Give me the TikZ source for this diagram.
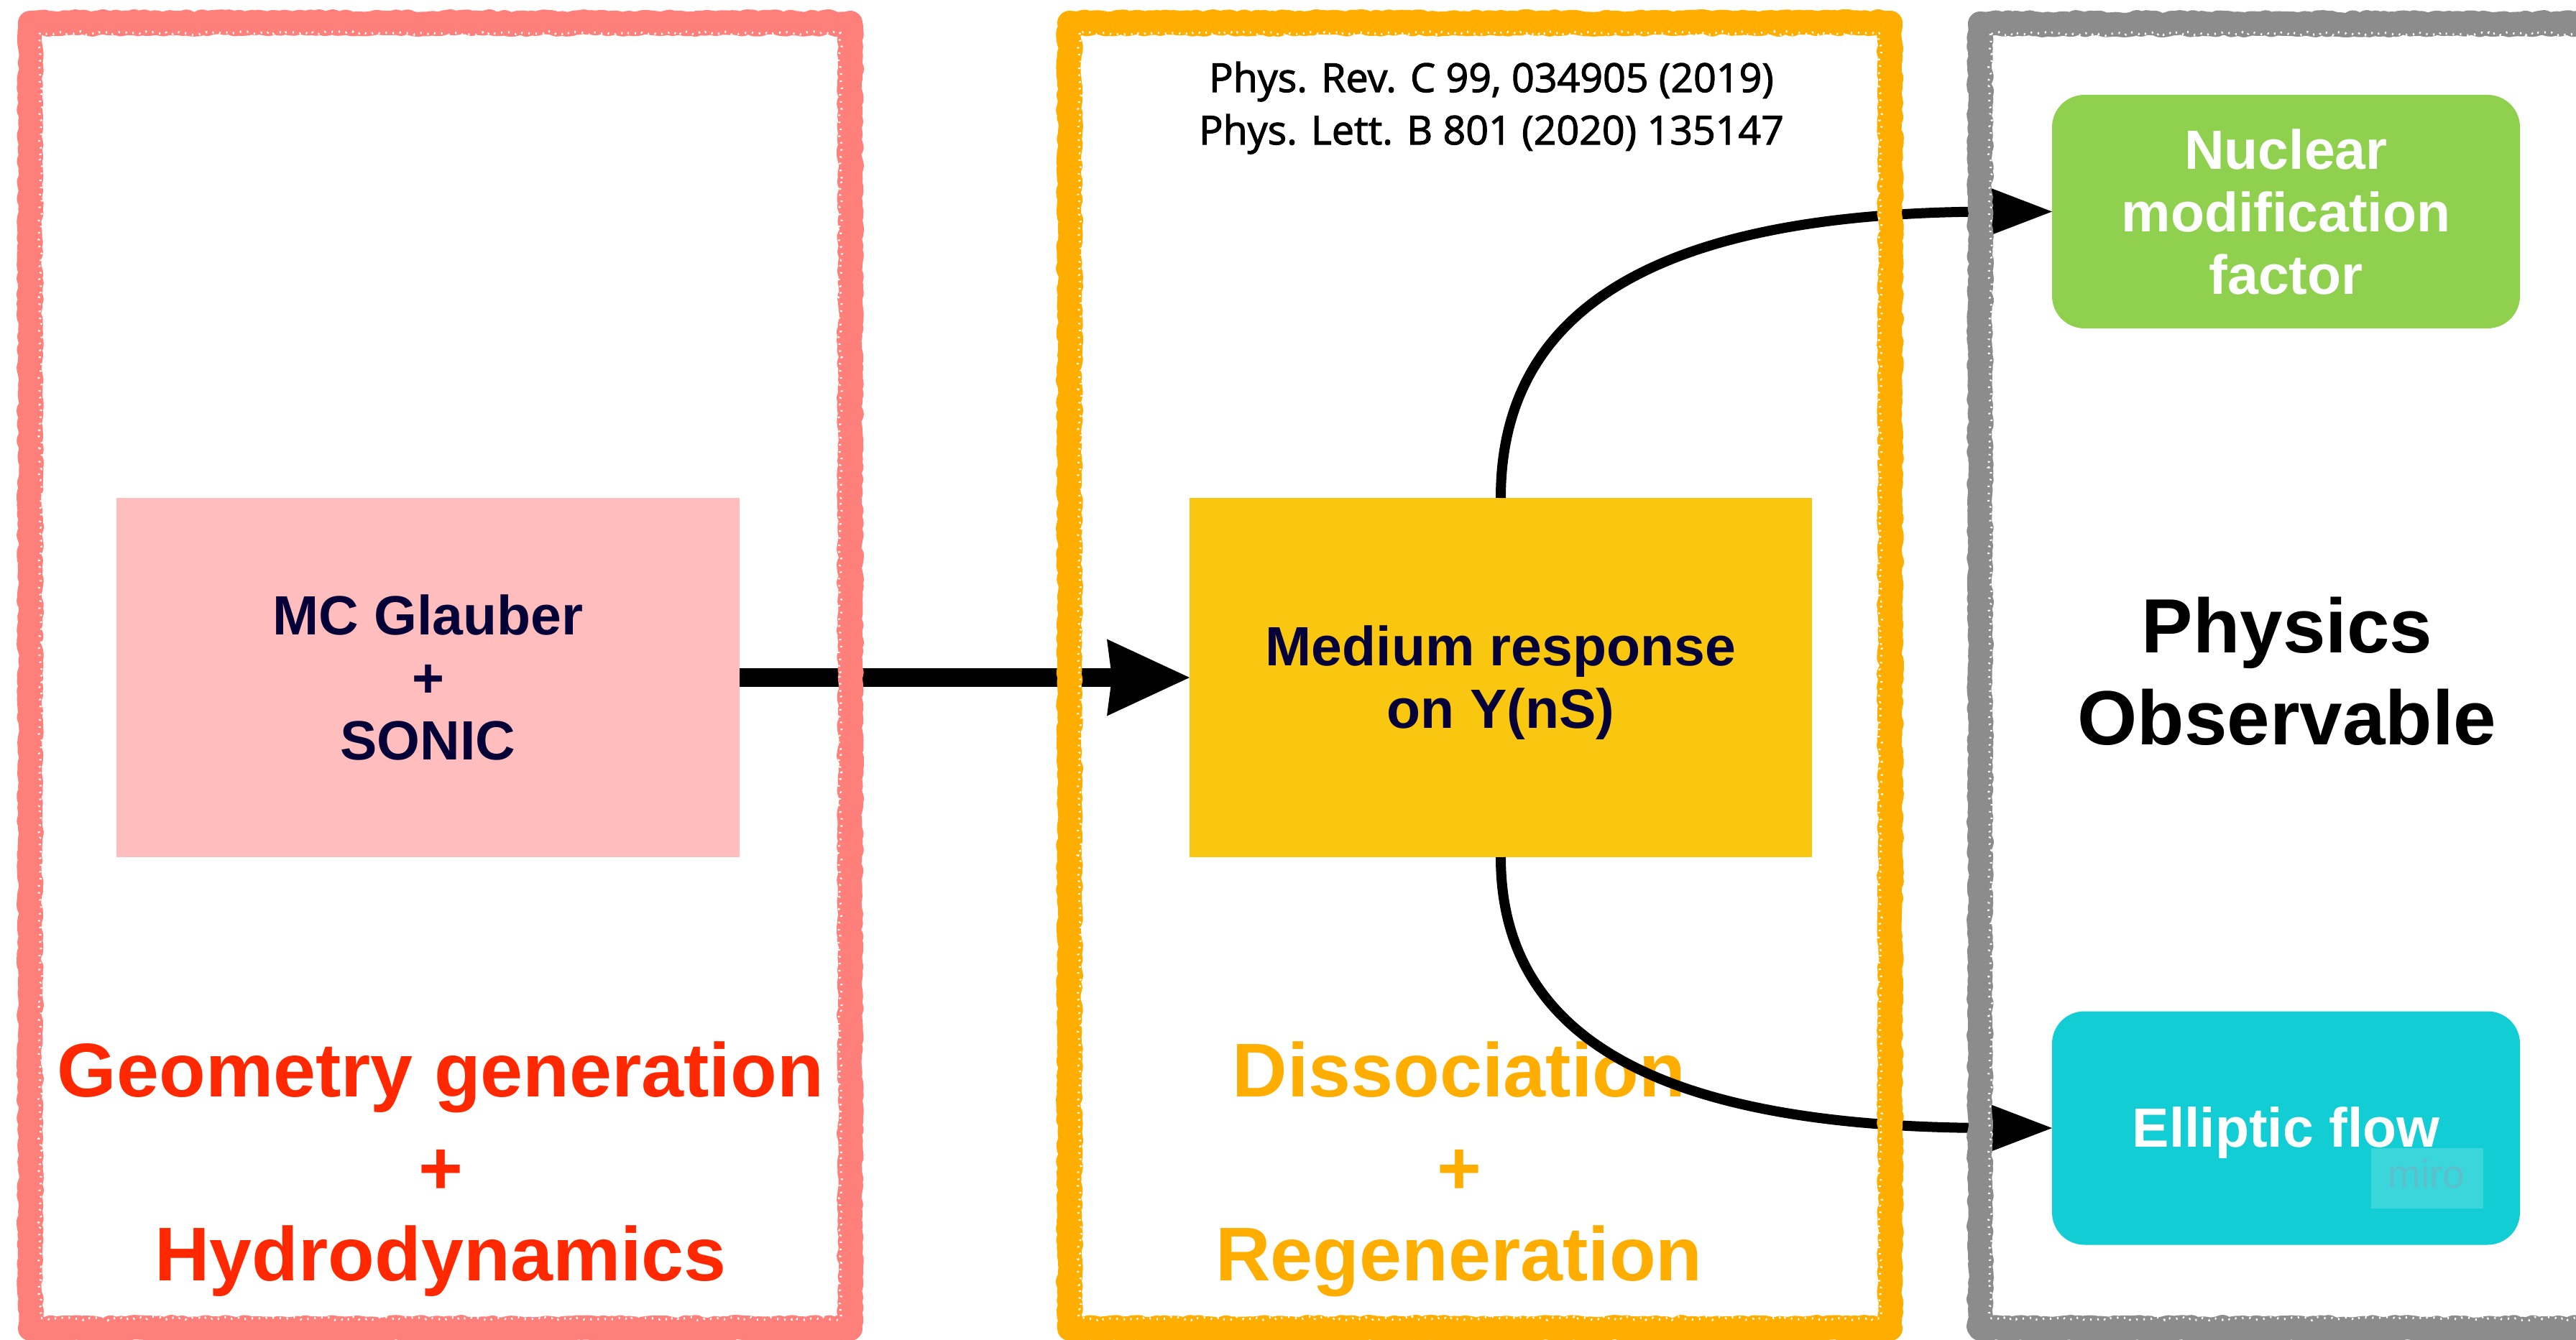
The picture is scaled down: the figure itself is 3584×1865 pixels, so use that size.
\documentclass[tikz,border=0pt]{standalone}
\usepackage{fontspec}
\setmainfont{Liberation Sans}
\newfontfamily\citefont[FakeBold=2]{Open Sans}
\usetikzlibrary{arrows.meta,decorations.pathmorphing}

\definecolor{framered}{RGB}{255,128,122}
\definecolor{frameorange}{RGB}{255,174,0}
\definecolor{framegray}{RGB}{140,140,140}
\definecolor{boxpink}{RGB}{255,189,189}
\definecolor{boxyellow}{RGB}{250,199,16}
\definecolor{boxgreen}{RGB}{143,209,79}
\definecolor{boxcyan}{RGB}{18,205,212}
\definecolor{navy}{RGB}{5,0,56}
\definecolor{labelred}{RGB}{255,40,0}
\definecolor{labelorange}{RGB}{255,174,0}
\definecolor{markfill}{RGB}{58,214,219}
\definecolor{marktext}{RGB}{92,192,202}

\begin{document}
\begin{tikzpicture}[x=1pt,y=-1pt,
  every node/.style={inner sep=0pt, outer sep=0pt},
  stage/.style={minimum width=867pt, minimum height=500pt, align=center,
    text=navy, font=\bfseries\fontsize{77}{87}\selectfont},
  observable/.style={minimum width=651pt, minimum height=325pt,
    rounded corners=45pt, align=center, text=white,
    font=\bfseries\fontsize{77}{87}\selectfont},
  heading/.style={anchor=base, align=center,
    font=\bfseries\fontsize{106}{120}\selectfont},
  chalk/.style={line width=34pt, line join=round, line cap=round, decorate,
    decoration={random steps, segment length=6pt, amplitude=2pt}},
  speck/.style={white, line width=3pt, dash pattern=on 2pt off 8pt, decorate,
    decoration={random steps, segment length=5pt, amplitude=2.5pt}},
  bigarrow/.style={line width=26pt,
    -{Stealth[length=115pt, width=107pt, inset=7pt, line width=0pt]}},
  curvearrow/.style={line width=14pt,
    -{Stealth[length=86pt, width=66pt, inset=5pt, line width=0pt]}}
]
\pgfmathsetseed{11}
\useasboundingbox (0,0) rectangle (3584,1865);

% stage boxes
\node[stage, fill=boxpink] (glauber) at (595.5,943) {MC Glauber\\+\\SONIC};
\node[stage, fill=boxyellow, minimum width=866pt] (medium) at (2088,943)
  {\rule{0pt}{69pt}Medium response\\on Y(nS)};

% observables
\node[observable, fill=boxgreen] (nuclear) at (3180.5,294.5)
  {Nuclear\\modification\\factor};
\node[observable, fill=boxcyan] (elliptic) at (3180.5,1570)
  {\rule{0pt}{69pt}Elliptic flow};
\node[fill=markfill, minimum width=156pt, minimum height=84pt] (mark) at (3377,1640) {};
\node[anchor=base, text=marktext, font=\fontsize{55}{60}\selectfont] (marktxt)
  at (3376,1653) {miro};

% headings (anchored at the baseline of their last line)
\node[heading, text=labelred] (geometry) at (613,1782)
  {Geometry generation\\[16pt]+\\Hydrodynamics};
\node[heading, text=labelorange] (dissociation) at (2030,1782)
  {Dissociation\\[16pt]+\\Regeneration};
\node[heading, font=\bfseries\fontsize{107}{128}\selectfont] (physics) at (3182,1036)
  {Physics\\Observable};
\node[anchor=base, align=center, font=\citefont\fontsize{55.5}{73}\selectfont] (refs)
  at (2075,201) {Phys. Rev. C 99, 034905 (2019)\\Phys. Lett. B 801 (2020) 135147};

% connectors
\draw[bigarrow] (glauber) -- (medium);
\draw[curvearrow] (medium.north) .. controls +(0,-272) and +(-535,0) .. (nuclear.west);
\draw[curvearrow] (medium.south) .. controls +(0,258) and +(-535,0) .. (elliptic.west);

% chalk frames
\draw[chalk, framered] (42,32) rectangle (1183,1849);
\draw[speck] (56,46) rectangle (1169,1835);
\draw[chalk, frameorange] (1488,32) rectangle (2630,1849);
\draw[speck] (1502,46) rectangle (2616,1835);
\draw[chalk, framegray] (2755,33) rectangle (3700,1849);
\draw[speck] (2769,47) rectangle (3686,1835);
\end{tikzpicture}
\end{document}
